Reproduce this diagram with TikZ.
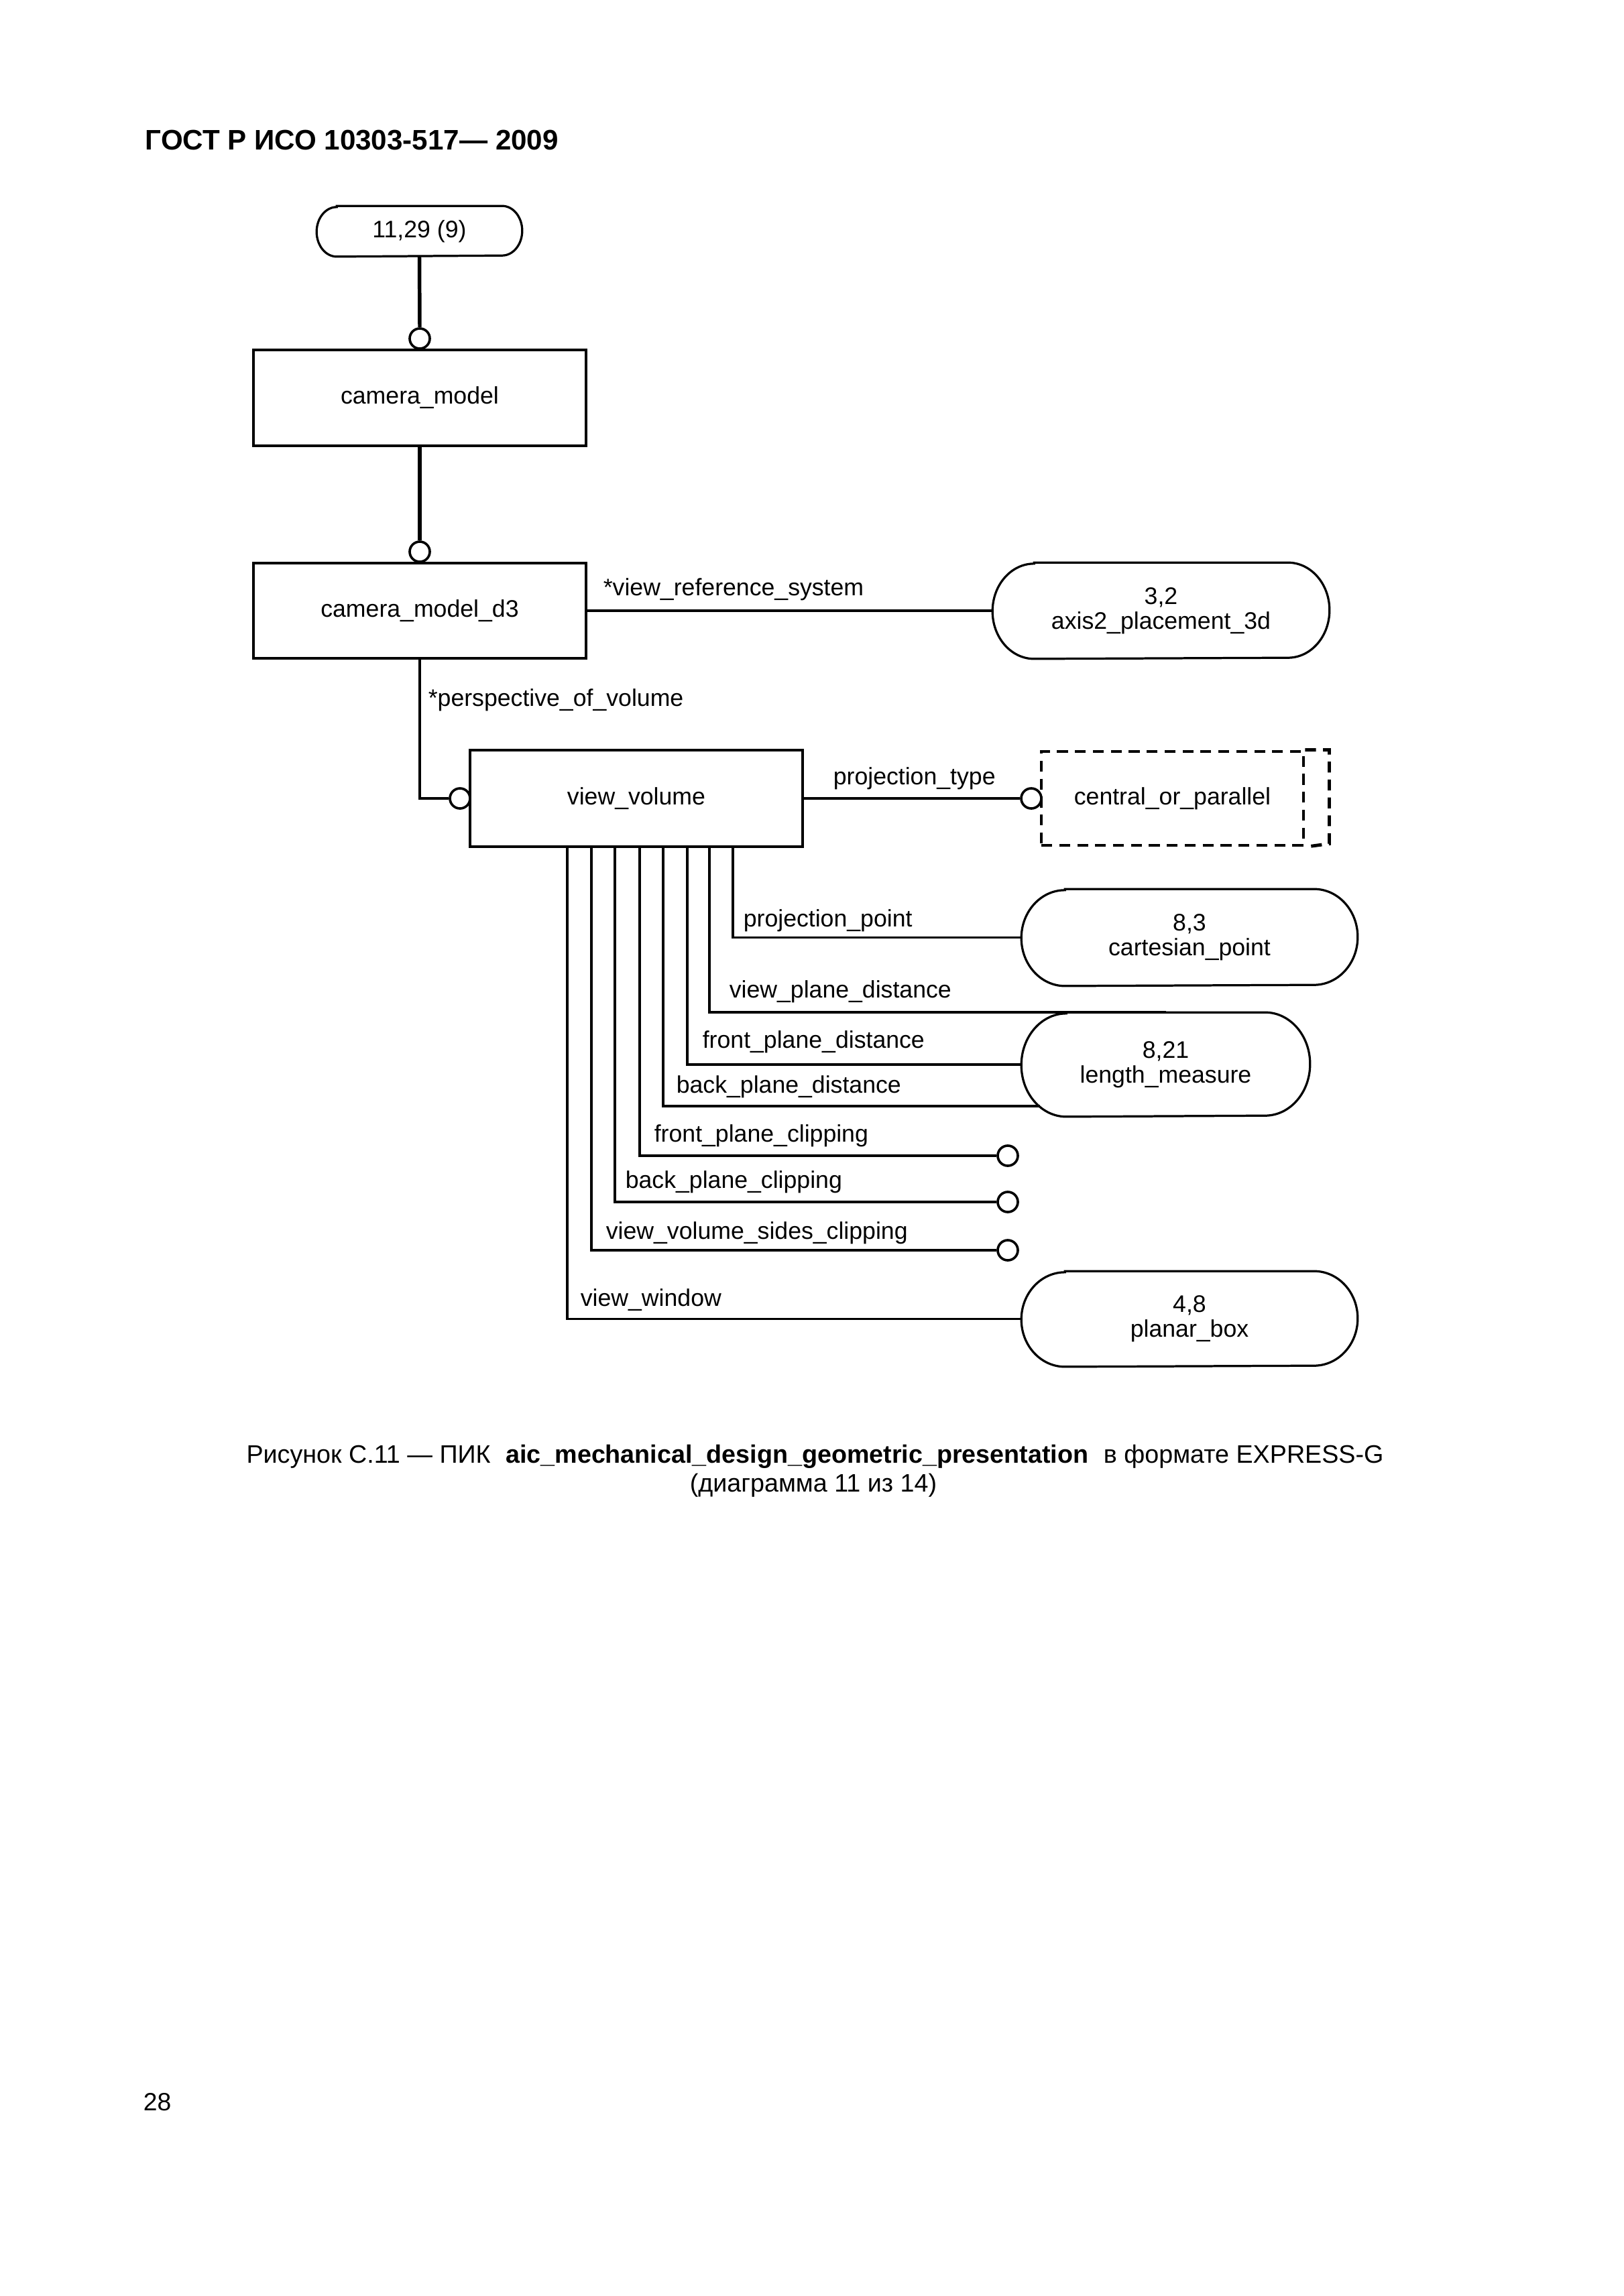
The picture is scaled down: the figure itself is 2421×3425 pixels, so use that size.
\documentclass[tikz,border=0pt]{standalone}
\usepackage{fontspec}
\setmainfont{Liberation Sans}
\newlength\pxu
\setlength\pxu{0.08674mm}
\newcommand\dfont{\fontsize{8.8}{9.2}\selectfont}
\newcommand\capfont{\fontsize{9.3}{11}\selectfont}
\newcommand\pillout[3]{\draw[line width=0.8pt] ([xshift=#2]#1.north west) -- ([xshift=-#2]#1.north east) arc[start angle=90,end angle=-90,x radius=#2,y radius=#3] -- ([xshift=#2]#1.south west) arc[start angle=270,end angle=90,x radius=#2,y radius=#3] -- cycle;}
\tikzset{
  ent/.style={draw, line width=1pt, rectangle, minimum width=496*\pxu, inner sep=0pt, font=\dfont},
  pillnode/.style={rectangle, inner sep=0pt, align=center, font=\dfont},
  attr/.style={line width=0.95pt},
  supline/.style={line width=1.35pt},
  ring/.style={circle, draw, line width=0.9pt, fill=white, minimum size=30*\pxu, inner sep=0pt},
  lbl/.style={anchor=base west, inner sep=0pt, font=\dfont},
  dashpat/.style={line width=1.2pt, dash pattern=on 4pt off 2.6pt},
}
\begin{document}
\begin{tikzpicture}[x=0.08674mm, y=-0.08674mm]
\useasboundingbox (0,0) rectangle (2421,3425);
\fill[white] (0,0) rectangle (2421,3425);

% header
\node[anchor=base west, inner sep=0pt, font=\fontsize{10.4}{12}\selectfont\bfseries] (hdr) at (216,223) {ГОСТ Р ИСО 10303-517— 2009};

% top pill
\node[pillnode, minimum width=305*\pxu, minimum height=74*\pxu] (p1) at (625.5,345) {11,29 (9)};
\pillout{p1}{30\pxu}{37\pxu}

% entities
\node[ent, minimum height=143*\pxu] (cm) at (626,593.5) {camera\_model};
\node[ent, minimum height=142*\pxu] (d3) at (626,911) {camera\_model\_d3};
\node[ent, minimum height=144*\pxu] (vv) at (949,1191) {view\_volume};

% supertype links
\node[ring] (r1) at (626,505) {};
\node[ring] (r2) at (626,823) {};
\draw[supline] (p1.south) -- (r1.north);
\draw[supline] (cm.south) -- (r2.north);

% axis2 pill
\node[pillnode, minimum width=501*\pxu, minimum height=142*\pxu] (ax) at (1731.5,911) {3,2\\axis2\_placement\_3d};
\pillout{ax}{62\pxu}{71\pxu}
\draw[attr] (d3.east) -- (ax.west);
\node[lbl] (l1) at (899,888) {*view\_reference\_system};

% perspective
\node[ring] (rp) at (686,1191) {};
\draw[attr] (d3.south) |- (rp.west);
\node[lbl] (l2) at (638,1053) {*perspective\_of\_volume};

% central_or_parallel
\node[draw, dashpat, minimum width=391*\pxu, minimum height=140*\pxu, inner sep=0pt, font=\dfont] (cp) at (1748.5,1191) {central\_or\_parallel};
\draw[dashpat] (cp.north east) -- ++(36,0) -- ++(0,140) -- (cp.south east);
\node[ring] (rt) at (1538,1191) {};
\draw[attr] (vv.east) -- (rt.west);
\node[lbl] (l3) at (1242,1170) {projection\_type};

% pills on the right
\node[pillnode, minimum width=500*\pxu, minimum height=143*\pxu] (cpt) at (1774,1398.5) {8,3\\cartesian\_point};
\pillout{cpt}{65\pxu}{71.5\pxu}
\node[pillnode, minimum width=429*\pxu, minimum height=154*\pxu] (lm) at (1738.5,1588) {8,21\\length\_measure};
\pillout{lm}{67\pxu}{77\pxu}
\node[pillnode, minimum width=500*\pxu, minimum height=141*\pxu] (pb) at (1774,1967.5) {4,8\\planar\_box};
\pillout{pb}{65\pxu}{70.5\pxu}

% attachment points on view_volume bottom
\path (vv.south) ++(-103,0) coordinate (b1);
\path (vv.south) ++(-67,0) coordinate (b2);
\path (vv.south) ++(-32,0) coordinate (b3);
\path (vv.south) ++(5,0) coordinate (b4);
\path (vv.south) ++(40,0) coordinate (b5);
\path (vv.south) ++(76,0) coordinate (b6);
\path (vv.south) ++(109,0) coordinate (b7);
\path (vv.south) ++(144,0) coordinate (b8);
\coordinate (bpd) at (1551,1650);

\node[ring] (rf) at (1503,1724) {};
\node[ring] (rb) at (1503,1793) {};
\node[ring] (rs) at (1503,1865) {};

\draw[attr] (b8) |- (cpt.west);
\draw[attr] (b7) |- (lm.north);
\draw[attr] (b6) |- (lm.west);
\draw[attr] (b5) |- (bpd);
\draw[attr] (b4) |- (rf.west);
\draw[attr] (b3) |- (rb.west);
\draw[attr] (b2) |- (rs.west);
\draw[attr] (b1) |- (pb.west);

\node[lbl] (l4) at (1108,1382) {projection\_point};
\node[lbl] (l5) at (1087,1488) {view\_plane\_distance};
\node[lbl] (l6) at (1047,1563) {front\_plane\_distance};
\node[lbl] (l7) at (1008,1630) {back\_plane\_distance};
\node[lbl] (l8) at (975,1703) {front\_plane\_clipping};
\node[lbl] (l9) at (932,1772) {back\_plane\_clipping};
\node[lbl] (l10) at (903,1848) {view\_volume\_sides\_clipping};
\node[lbl] (l11) at (865,1948) {view\_window};

% caption
\node[anchor=base, inner sep=0pt, font=\capfont] (cap1) at (1215.5,2182) {Рисунок С.11 — ПИК\hspace{0.6em}\textbf{aic\_mechanical\_design\_geometric\_presentation}\hspace{0.6em}в формате EXPRESS-G};
\node[anchor=base, inner sep=0pt, font=\capfont] (cap2) at (1213,2225) {(диаграмма 11 из 14)};

% page number
\node[anchor=base west, inner sep=0pt, font=\fontsize{9.2}{11}\selectfont] (pg) at (213,3148) {28};
\end{tikzpicture}
\end{document}
